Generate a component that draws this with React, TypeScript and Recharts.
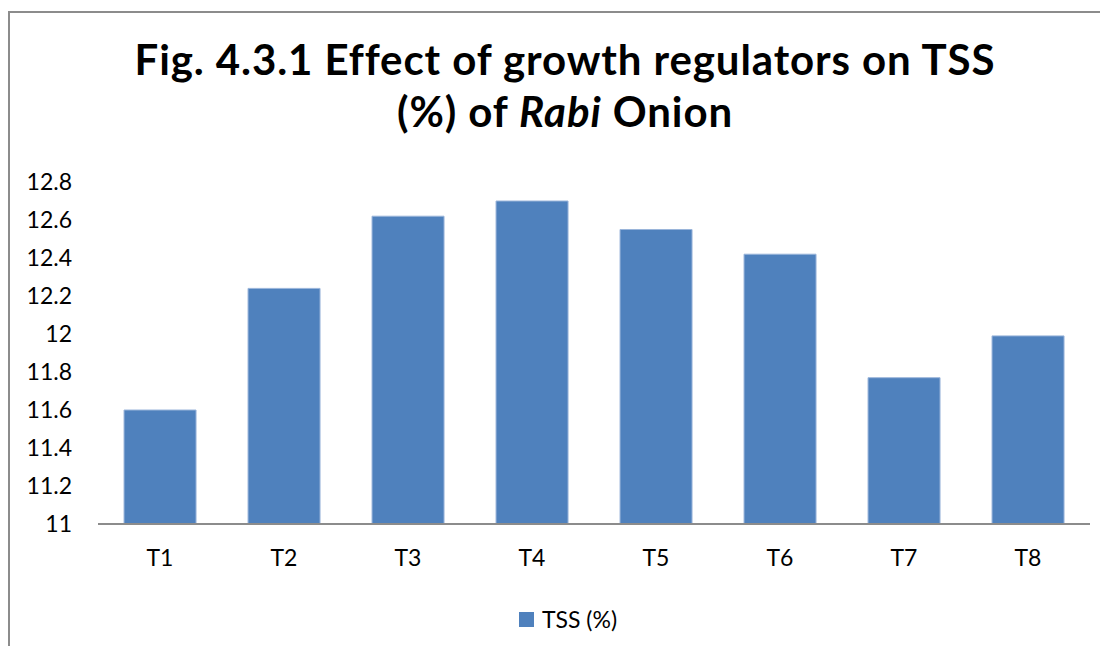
import React from 'react';
import { BarChart, Bar, XAxis, YAxis } from 'recharts';

const treatments = ['T1', 'T2', 'T3', 'T4', 'T5', 'T6', 'T7', 'T8'];
const tssValues = [11.6, 12.24, 12.62, 12.7, 12.55, 12.42, 11.77, 11.99];
const yTicks = [11, 11.2, 11.4, 11.6, 11.8, 12, 12.2, 12.4, 12.6, 12.8];
const seriesName = 'TSS (%)';

const FONT = 'Lato, "Open Sans", sans-serif';
const BAR_COLOR = '#4F81BD';

const App: React.FC = () => {
  const data = treatments.map((t, i) => ({ name: t, tss: tssValues[i] }));

  return (
    <div style={{ position: 'relative', width: 1100, height: 638, fontFamily: FONT }}>
      {/* chart frame, cropped on the right and bottom */}
      <div style={{ position: 'absolute', left: 0, top: 3, width: 1100, height: 2, background: '#8c8c8c' }} />
      <div style={{ position: 'absolute', left: 0, top: 3, width: 2, height: 635, background: '#8c8c8c' }} />

      {/* Title */}
      <div
        style={{
          position: 'absolute',
          left: 0,
          top: 25,
          width: 1114,
          textAlign: 'center',
          fontWeight: 700,
          fontSize: 42,
          letterSpacing: 0.9,
          lineHeight: '52px',
          color: '#000',
        }}
      >
        Fig. 4.3.1 Effect of growth regulators on TSS
        <br />
        (%) of <i>Rabi</i> Onion
      </div>

      <BarChart
        width={1100}
        height={630}
        data={data}
        margin={{ top: 174, right: 18, bottom: 54, left: 0 }}
        barCategoryGap="21%"
      >
        <XAxis
          dataKey="name"
          axisLine={{ stroke: '#8c8c8c', strokeWidth: 2 }}
          tickLine={false}
          tickMargin={20}
          height={60}
          tick={{ fill: '#000', fontSize: 23, fontFamily: FONT }}
        />
        <YAxis
          domain={[11, 12.8]}
          ticks={yTicks}
          axisLine={false}
          tickLine={false}
          width={90}
          tickMargin={20}
          interval={0}
          tick={{ fill: '#000', fontSize: 23, fontFamily: FONT }}
        />
        <Bar
          dataKey="tss"
          name={seriesName}
          fill={BAR_COLOR}
          stroke="#9ab5da"
          strokeWidth={1}
          isAnimationActive={false}
        />
      </BarChart>

      {/* Legend */}
      <div
        style={{
          position: 'absolute',
          left: 511,
          top: 597,
          display: 'flex',
          alignItems: 'center',
          fontSize: 23,
          color: '#000',
        }}
      >
        <span style={{ display: 'inline-block', width: 15, height: 15, background: BAR_COLOR, marginRight: 8 }} />
        {seriesName}
      </div>
    </div>
  );
};

export default App;
